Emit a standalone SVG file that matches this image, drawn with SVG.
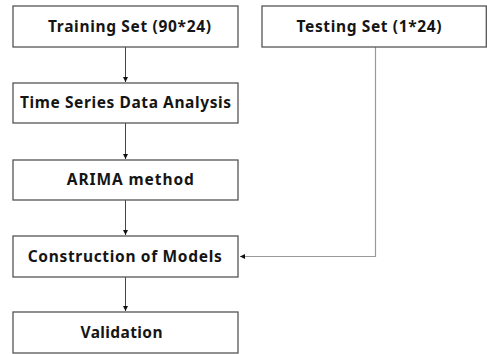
<svg xmlns="http://www.w3.org/2000/svg" width="487" height="354" viewBox="0 0 487 354">
<style>
.box{fill:#fff;stroke:#555;stroke-width:1.3}
.lbl{font-family:"Noto Sans","Open Sans",sans-serif;font-weight:bold;font-size:15.5px;fill:#151515;text-anchor:middle}
.c{fill:none;stroke:#444;stroke-width:1}
.c2{fill:none;stroke:#999;stroke-width:1.2}
</style>
<defs>
<marker id="ah" viewBox="0 0 10 10" refX="10" refY="5" markerWidth="5" markerHeight="5" markerUnits="userSpaceOnUse" orient="auto">
<path d="M0,0 L10,5 L0,10 Z" fill="#111"/>
</marker>
</defs>
<rect width="487" height="354" fill="#fff"/>
<g id="connectors">
<line class="c" x1="125.5" y1="47" x2="125.5" y2="82" marker-end="url(#ah)"/>
<line class="c" x1="125.5" y1="123" x2="125.5" y2="159" marker-end="url(#ah)"/>
<line class="c" x1="125.5" y1="200" x2="125.5" y2="235" marker-end="url(#ah)"/>
<line class="c" x1="125.5" y1="277" x2="125.5" y2="311" marker-end="url(#ah)"/>
<polyline class="c2" points="375.5,47 375.5,256.5 240,256.5" marker-end="url(#ah)"/>
</g>
<g id="n1"><rect class="box" x="13" y="6" width="225" height="41"/><text class="lbl" x="129.5" y="32" textLength="163" lengthAdjust="spacing">Training Set (90*24)</text></g>
<g id="n2"><rect class="box" x="262" y="6" width="224.3" height="41"/><text class="lbl" x="369" y="32" textLength="145" lengthAdjust="spacing">Testing Set (1*24)</text></g>
<g id="n3"><rect class="box" x="13" y="83" width="225" height="40"/><text class="lbl" x="125.5" y="108" textLength="211" lengthAdjust="spacing">Time Series Data Analysis</text></g>
<g id="n4"><rect class="box" x="13" y="160" width="225" height="40"/><text class="lbl" x="130.3" y="185" textLength="127" lengthAdjust="spacing">ARIMA method</text></g>
<g id="n5"><rect class="box" x="13" y="236" width="225" height="41"/><text class="lbl" x="124.7" y="262" textLength="194" lengthAdjust="spacing">Construction of Models</text></g>
<g id="n6"><rect class="box" x="13" y="312" width="225" height="41"/><text class="lbl" x="121.5" y="338" textLength="82" lengthAdjust="spacing">Validation</text></g>
</svg>
